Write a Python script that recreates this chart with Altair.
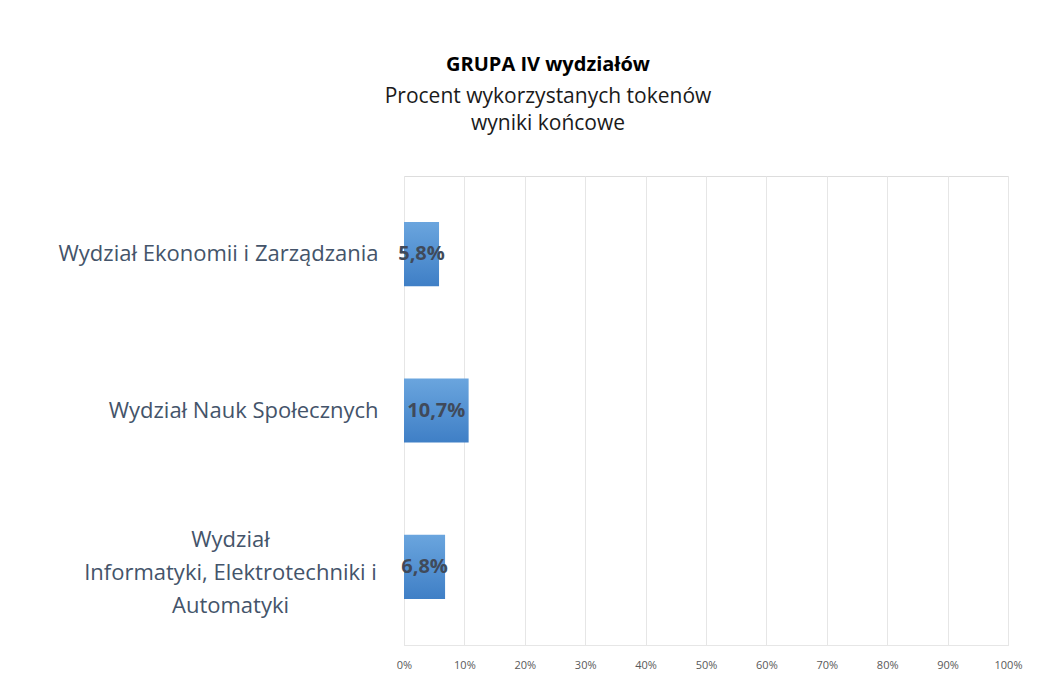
import altair as alt
import pandas as pd

categories = [
    "Wydział Ekonomii i Zarządzania",
    "Wydział Nauk Społecznych",
    "Wydział|Informatyki, Elektrotechniki i|Automatyki",
]
values = [5.8, 10.7, 6.8]
x_ticks = [0, 10, 20, 30, 40, 50, 60, 70, 80, 90, 100]

title_text = "GRUPA IV wydziałów"
subtitle_lines = ["Procent wykorzystanych tokenów", "wyniki końcowe"]

df = pd.DataFrame({"kat": categories, "v": values})

FONT = "Open Sans"
LABEL_COLOR = "#44546A"
MULTI = "indexof(datum.value, '|') >= 0"

y_enc = alt.Y(
    "kat:N",
    sort=categories,
    title=None,
    scale=alt.Scale(paddingInner=0.59, paddingOuter=0.295),
    axis=alt.Axis(
        labelExpr="split(datum.label, '|')",
        labelFont=FONT,
        labelFontSize=22,
        labelColor=LABEL_COLOR,
        labelLineHeight=33,
        labelLimit=400,
        labelAlign={"condition": {"test": MULTI, "value": "center"}, "value": "right"},
        labelPadding={"condition": {"test": MULTI, "value": 174}, "value": 26},
        labelOffset={"condition": {"test": MULTI, "value": -27}, "value": 0},
        ticks=False,
        domain=False,
        grid=False,
    ),
)

x_enc = alt.X(
    "v:Q",
    title=None,
    scale=alt.Scale(domain=[0, 100], nice=False),
    axis=alt.Axis(
        values=x_ticks,
        labelExpr="datum.value + '%'",
        labelFont=FONT,
        labelFontSize=11,
        labelColor="#595959",
        labelPadding=14,
        labelFlush=False,
        ticks=False,
        domain=True,
        domainColor="#E6E6E6",
        grid=True,
        gridColor="#E6E6E6",
        gridWidth=1,
    ),
)

bars = alt.Chart(df).mark_bar(
    color=alt.Gradient(
        gradient="linear",
        stops=[alt.GradientStop(color="#6AA5DE", offset=0), alt.GradientStop(color="#3F7FC6", offset=1)],
        x1=0, x2=0, y1=0, y2=1,
    )
).encode(x=x_enc, y=y_enc)

text = alt.Chart(df).transform_calculate(
    mid="datum.v / 2",
    lab="replace(format(datum.v, '.1f'), '.', ',') + '%'",
).mark_text(
    font=FONT, fontSize=20, fontWeight="bold", color="#404A5A", align="center", baseline="middle"
).encode(
    x=alt.X("mid:Q"),
    y=alt.Y("kat:N", sort=categories),
    text="lab:N",
)

chart = (
    alt.layer(bars, text)
    .properties(
        width=604,
        height=469,
        autosize=alt.AutoSizeParams(type="none"),
        padding={"left": 396, "top": 168, "right": 20, "bottom": 30},
        title=alt.Title(
            text=title_text,
            subtitle=subtitle_lines,
            font=FONT,
            fontSize=20,
            fontWeight="bold",
            color="#000000",
            subtitleFont=FONT,
            subtitleFontSize=21,
            subtitleColor="#1A1A1A",
            subtitleLineHeight=27,
            subtitlePadding=11,
            anchor="middle",
            dx=-158,
            offset=42,
        ),
    )
    .configure_view(stroke="#E6E6E6", strokeWidth=1)
    .configure(background="white")
)

chart.save("out.html", embed_options={"renderer": "svg", "actions": False})
